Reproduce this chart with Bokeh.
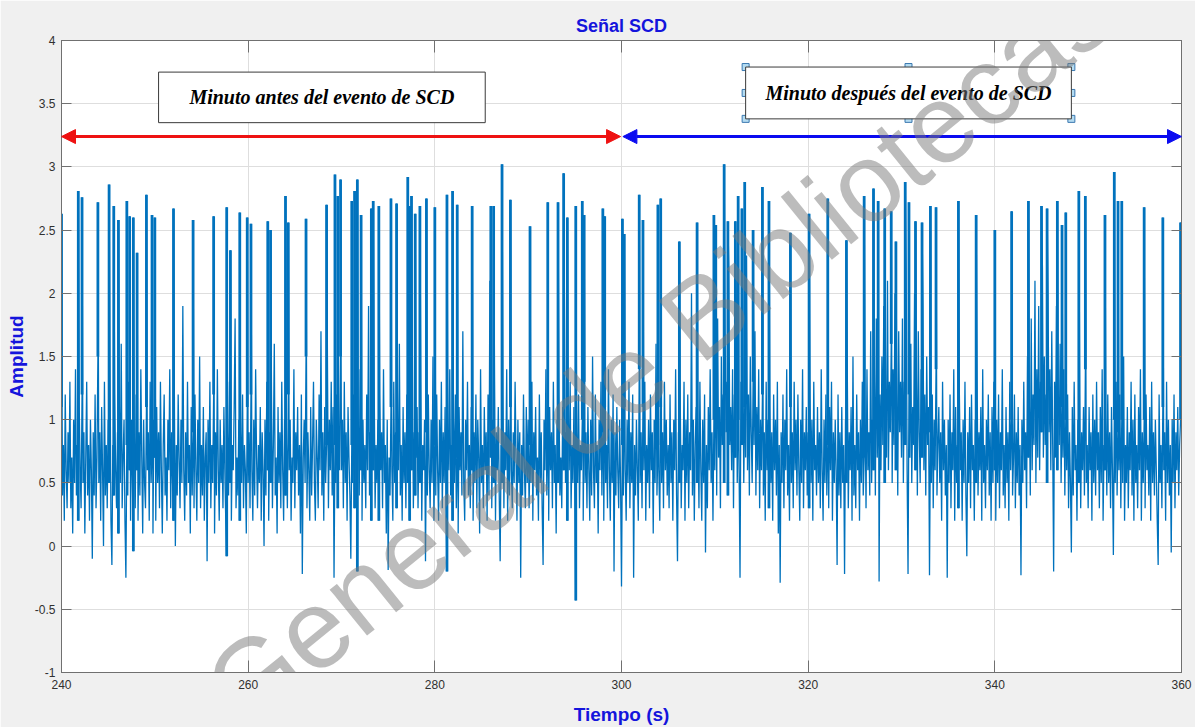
import numpy as np
from bokeh.plotting import figure
from bokeh.models import (Arrow, NormalHead, BoxAnnotation, Label, LinearAxis,
                          FixedTicker, CustomJSTickFormatter)
from bokeh.embed import file_html
from bokeh.resources import INLINE

# ---- signal: background activity, one 10 s block per row (240 s .. 360 s), 0.1 s apart ----
seg_starts = [240, 250, 260, 270, 280, 290, 300, 310, 320, 330, 340, 350]
base_rows = [
    [1.1, 0.4, 0.8, 0.2, 1.2, 0.6, 0.3, 0.9, 0.5, 1.3,
     0.3, 0.7, 0.1, 1.0, 0.5, 1.4, 0.4, 0.8, 0.2, 1.1,
     0.6, 0.3, 1.2, 0.5, 0.9, 0.1, 0.7, 1.3, 0.4, 0.8,
     0.2, 1.0, 0.6, -0.1, 0.9, 0.4, 1.2, 0.3, 0.7, 1.5,
     0.5, 0.9, 0.2, 1.1, 0.6, 0.0, 1.3, 0.4, 0.8, 0.3,
     1.0, 0.5, 1.4, 0.2, -0.15, 0.8, 0.4, 1.2, 0.6, 0.3,
     0.9, 0.1, 1.1, 0.5, 1.6, 0.3, 0.7, 1.0, 0.2, -0.25,
     0.8, 0.4, 1.3, 0.6, 0.2, 1.0, 0.5, -0.04, 0.9, 0.3,
     1.2, 0.6, 0.2, 0.9, 0.4, 1.4, 0.7, 0.1, 1.0, 0.5,
     0.3, 1.1, 0.6, 0.9, 0.2, 1.3, 0.5, 0.8, 0.1, 1.0],
    [0.7, 0.2, 1.1, 0.5, 0.9, 0.3, 1.3, 0.6, 0.1, 0.8,
     1.2, 0.4, 0.7, 0.2, 1.0, 0.6, 1.4, 0.3, 0.9, 0.5,
     0.2, 1.1, 0.0, 0.8, 0.4, 1.2, 0.7, 0.3, 1.0, 0.5,
     1.9, 0.6, 0.2, 0.9, 0.4, 1.3, 0.5, 0.8, 0.1, 1.1,
     0.4, 0.9, 0.3, 1.2, 0.6, 0.2, 1.0, 0.5, 1.5, 0.3,
     0.8, 0.4, 1.1, 0.2, 0.7, 0.9, -0.12, 1.0, 0.5, 1.3,
     0.3, 0.8, 0.5, 1.2, 0.1, 0.9, 0.4, 1.4, 0.6, 0.2,
     1.0, 0.5, 0.8, 0.3, 1.1, 0.6, 0.2, -0.08, 0.9, 0.4,
     1.3, 0.5, 0.2, 0.8, 0.6, 1.1, 1.8, 0.3, 0.7, 0.4,
     1.0, 0.2, 0.9, 0.5, 1.2, 0.3, 0.8, 0.6, 0.1, 1.1],
    [0.5, 0.9, 0.3, 1.2, 0.6, 0.2, 1.0, 0.4, 1.4, 0.7,
     0.3, 0.8, 0.5, 1.1, 0.2, 0.9, 0.6, 0.0, 1.0, 0.4,
     1.3, 0.6, 0.2, 0.9, 0.5, 1.2, 0.3, 0.8, 1.6, 0.4,
     0.7, 0.1, 1.1, 0.5, 0.9, 0.3, 1.3, 0.6, 0.2, 1.0,
     0.4, 0.8, 0.3, 1.2, 0.6, 1.0, 0.2, 0.7, 0.5, 1.4,
     0.3, 0.9, 0.6, 1.1, 0.4, 0.8, 0.1, 1.2, -0.22, 0.7,
     1.0, 0.5, 1.5, 0.3, 0.9, 0.6, 0.2, 1.1, 0.4, 0.8,
     1.3, 0.5, 0.2, 1.0, 0.7, 0.3, 1.2, 0.6, 1.7, 0.4,
     0.9, 0.2, 1.1, 0.5, 0.8, 1.4, 0.3, 1.0, 0.6, 1.3,
     0.4, 1.1, -0.25, 0.8, 0.5, 1.2, 0.3, 0.9, 0.6, 1.5],
    [0.6, 1.0, 0.3, 1.3, 0.5, 0.9, 0.2, 1.1, 0.7, 0.4,
     -0.1, 0.8, 0.5, 1.2, 0.3, 0.9, 0.6, -0.2, 1.0, 0.4,
     1.4, 0.6, 0.2, 1.0, 0.5, 0.8, 0.3, 1.2, 0.6, 1.9,
     0.4, 0.9, 0.2, 1.1, 0.6, 1.3, 0.3, 0.8, 0.5, 1.0,
     0.2, 1.2, 0.6, 0.9, 0.3, 1.4, 0.5, 0.8, 0.1, 1.0,
     -0.19, 0.7, 0.4, 1.1, 0.6, 0.2, 1.3, 0.5, 0.9, 0.3,
     1.0, 0.6, 1.6, 0.4, 0.8, 0.2, 1.1, 0.5, 0.9, 0.3,
     1.2, 0.5, 0.8, 0.2, 1.0, 0.6, 1.4, 0.3, 0.9, 0.4,
     0.7, 1.1, 0.3, 0.9, 0.5, 1.3, 0.2, 0.8, 0.6, 1.0,
     -0.12, 0.9, 0.4, 1.2, 0.6, 0.3, 1.0, 0.5, 1.5, 0.2],
    [0.8, 0.4, 1.2, 0.6, 0.2, 1.0, 0.5, 1.3, 0.3, 0.9,
     0.5, 1.1, 0.3, -0.2, 0.9, 0.6, 1.4, 0.4, 0.8, 0.2,
     1.0, 0.5, 1.2, 0.3, 0.7, 0.1, 1.1, 0.6, 0.9, 0.4,
     1.7, 0.5, 0.2, 1.0, 0.6, 1.3, 0.4, 0.8, 0.3, 1.1,
     0.6, 0.2, 0.9, 0.5, 1.2, 0.3, 1.0, 0.7, 0.1, 1.4,
     0.5, 0.8, 0.3, 1.1, 0.6, 0.9, 0.2, 1.2, 0.4, 2.1,
     0.7, 0.3, 1.0, 0.5, 1.3, 0.2, 0.9, 0.6, 1.1, 0.4,
     -0.12, 0.8, 0.5, 1.2, 0.3, 0.9, 0.6, 1.4, 0.2, 1.0,
     0.4, 1.1, 0.6, 0.3, 0.9, 0.5, 1.3, 0.7, 0.2, 1.0,
     0.5, 0.9, -0.25, 0.8, 0.4, 1.2, 0.6, 0.3, 1.1, 0.5],
    [1.0, 0.3, 0.8, 0.5, 1.3, 0.2, 0.9, 0.6, 1.1, 0.4,
     0.7, 0.2, 1.2, 0.5, 0.9, 0.3, -0.15, 1.0, 0.6, 1.4,
     0.4, 0.8, 0.2, 1.1, 0.6, 0.9, 0.3, 1.3, 0.5, 0.8,
     0.1, 1.0, 0.5, 1.2, 0.4, 0.7, 0.3, 1.1, 0.6, 1.8,
     0.5, 0.9, 0.2, 1.0, 0.6, 1.3, 0.3, 0.8, 0.5, 1.1,
     0.4, -0.43, 0.9, 0.5, 1.2, 0.3, 0.8, 0.6, 1.0, 0.2,
     1.3, 0.5, 0.9, 0.3, 1.1, 0.6, 0.2, 1.0, 0.4, 1.5,
     0.6, 0.3, 1.2, 0.5, 0.8, 0.1, 1.0, 0.6, 1.3, 0.4,
     0.9, 0.2, 1.1, 0.5, 0.8, 0.3, 1.4, 0.6, 0.2, 1.0,
     0.5, 1.2, -0.2, 0.9, 0.4, 1.1, 0.6, 0.3, 1.0, 0.5],
    [-0.32, 0.8, 0.4, 1.1, 0.6, 0.2, 1.0, 0.5, 1.3, 0.3,
     0.9, 0.5, 1.2, -0.25, 0.8, 0.4, 1.0, 0.6, 0.2, 1.4,
     0.5, 0.9, 0.3, 1.1, 0.6, 1.3, 0.2, 0.8, 0.5, 1.0,
     0.3, 1.2, 0.6, 0.9, 0.1, 1.0, 0.5, 1.6, 0.4, 0.8,
     0.6, 0.2, 1.1, 0.5, 0.9, 0.3, 1.3, 0.6, 1.0, 0.4,
     0.8, 0.3, 1.2, 0.5, 0.9, 0.2, 1.0, 0.6, 1.4, 0.4,
     -0.12, 0.9, 0.5, 1.1, 0.3, 0.8, 0.6, 1.3, 0.2, 1.0,
     0.5, 1.2, 0.3, 0.9, 0.6, 2.0, 0.4, 1.0, 0.2, 0.8,
     1.1, 0.5, 0.9, 0.3, 1.3, 0.6, 0.2, 1.0, 0.5, 1.2,
     -0.05, 0.8, 0.3, 1.1, 0.6, 1.4, 0.5, 0.9, 0.2, 1.0],
    [0.6, 1.3, 0.4, 1.8, 0.7, 1.1, 0.3, 1.5, 0.8, 1.2,
     0.5, 1.7, 0.9, 1.3, 0.4, 2.2, 0.8, 1.1, 0.6, 1.4,
     0.3, 1.2, 0.7, 1.9, 0.5, 1.0, 0.6, -0.25, 1.3, 0.8,
     1.6, 0.5, 1.1, 0.7, 2.3, 0.6, 1.2, 0.4, 1.5, 0.9,
     0.5, 1.3, 0.8, 1.7, 0.4, 1.1, 0.6, 1.4, 0.3, 1.0,
     0.6, 1.2, 0.4, 0.9, 0.2, 1.3, 0.6, 1.0, 0.3, 1.1,
     0.5, 0.9, 0.2, 1.2, 0.6, 1.0, 0.4, 1.3, 0.1, 0.8,
     -0.29, 0.9, 0.5, 1.2, 0.3, 1.0, 0.6, 1.4, 0.4, 0.8,
     0.2, 1.1, 0.5, 0.9, 0.3, 1.3, 0.6, 1.0, 0.4, 1.2,
     0.6, 0.2, 1.0, 0.5, 1.4, 0.3, 0.9, 0.6, 1.1, 0.4],
    [0.9, 0.3, 1.2, 0.5, 1.0, 0.2, 1.3, 0.6, 0.8, 0.4,
     1.1, 0.5, 0.9, 0.3, 1.4, 0.6, 0.2, 1.0, 0.5, 1.2,
     0.4, 0.8, 0.3, 1.1, 0.6, 1.3, 0.2, 0.9, 0.5, 1.0,
     0.6, -0.15, 1.2, 0.4, 0.9, 0.3, 1.1, 0.5, 0.8, -0.22,
     1.0, 0.5, 1.3, 0.3, 0.9, 0.6, 1.1, 0.2, 1.5, 0.4,
     0.8, 0.3, 1.2, 0.6, 0.9, 0.2, 1.0, 0.5, 1.3, 0.4,
     0.7, 1.1, 0.3, 1.4, 0.6, 0.9, 0.4, 1.7, 0.5, 1.0,
     0.6, 1.3, 0.4, 1.8, 0.7, 1.1, -0.28, 1.2, 0.6, 1.5,
     0.8, 1.9, 0.5, 1.2, 0.7, 2.1, 0.6, 1.3, 0.9, 1.6,
     0.5, 1.4, 0.8, 2.0, 0.6, 1.2, 0.4, 1.7, 0.9, 1.3],
    [0.7, 1.8, 0.5, 1.3, 0.8, 2.2, 0.6, -0.22, 1.2, 0.7,
     1.6, 0.5, 1.1, 0.8, 2.0, 0.6, 1.3, 0.4, 1.7, 0.9,
     0.5, 1.4, 0.7, 1.9, 0.6, 1.2, 0.4, 1.5, 0.8, 1.1,
     -0.23, 0.9, 0.5, 1.2, 0.3, 1.0, 0.6, 1.4, 0.4, 0.8,
     1.1, 0.5, 0.9, 0.2, 1.3, 0.6, 1.0, 0.4, 0.8, -0.25,
     1.0, 0.5, 1.2, 0.3, 0.9, 0.6, 1.4, 0.2, 1.1, 0.5,
     0.8, 0.3, 1.2, 0.6, 0.9, 0.2, 1.0, 0.5, 1.3, 0.4,
     -0.08, 0.9, 0.5, 1.1, 0.3, 1.2, 0.6, 0.8, 0.2, 1.0,
     0.5, 1.3, 0.4, 0.9, 0.6, 1.1, 0.2, 1.4, 0.5, 0.8,
     0.3, 1.0, 0.6, 1.2, 0.4, 0.9, 0.2, 1.1, 0.5, 1.3],
    [0.6, 0.2, 1.0, 0.5, 1.2, 0.3, 0.9, 0.6, 1.4, 0.4,
     0.8, 0.3, 1.1, 0.5, 0.9, 0.2, 1.3, 0.6, 1.0, 0.4,
     0.7, 1.2, 0.3, 0.9, 0.5, 1.1, 0.4, 0.8, -0.23, 1.0,
     0.5, 1.3, 0.6, 0.9, 0.3, 1.5, 0.7, 1.1, 0.4, 1.8,
     0.6, 1.2, 0.8, 2.1, 0.5, 1.4, 0.7, 1.9, 0.6, 1.3,
     0.9, 2.2, 0.7, 1.5, 0.8, 1.2, 0.5, 2.0, 0.9, 1.4,
     0.6, 1.7, 0.8, -0.2, 1.3, 0.7, 1.9, 0.6, 1.2, 0.8,
     1.6, 0.5, 1.1, 0.7, 1.4, 0.4, 1.0, 0.6, 1.2, 0.3,
     0.9, 0.5, -0.05, 1.1, 0.4, 1.3, 0.6, 0.8, 0.2, 1.0,
     0.5, 1.2, 0.3, 0.9, 0.6, 1.1, 0.4, 1.4, 0.5, 0.8],
    [0.3, 1.1, 0.6, 0.9, 0.2, 1.2, 0.5, 1.0, 0.4, 1.3,
     0.6, 0.9, 0.3, 1.1, 0.5, 1.4, 0.2, 0.8, 0.6, 1.0,
     0.4, 1.2, 0.5, 0.9, 0.3, 1.1, 0.6, -0.07, 1.0, 0.5,
     1.3, 0.4, 0.9, 0.6, 1.2, 0.3, 1.0, 0.5, 1.5, 0.2,
     0.8, 0.5, 1.1, 0.3, 0.9, 0.6, 1.3, 0.4, 1.0, 0.2,
     1.2, 0.5, 0.8, 0.3, 1.1, 0.6, 1.4, 0.2, 0.9, 0.5,
     1.0, 0.3, 1.2, 0.6, 0.8, 0.4, 1.1, 0.2, 1.3, 0.5,
     0.9, 0.4, 1.0, 0.6, 0.2, -0.15, 1.2, 0.5, 0.8, 0.3,
     1.1, 0.6, 0.9, 0.2, 1.3, 0.5, 1.0, 0.4, 0.8, -0.05,
     1.0, 0.5, 1.2, 0.3, 0.9, 0.6, 1.1, 0.4, 0.8, 1.0],
]

# ---- signal: QRS peaks (time in s, amplitude) ----
peak_t = [240.0, 241.8, 242.2, 243.9, 245.1, 245.6, 246.1, 247.0, 247.3, 247.7, 248.1, 249.1, 249.7, 250.0,
          252.0, 254.1, 256.3, 257.7, 258.1, 259.1, 259.9, 260.3, 262.1, 262.4, 264.0, 264.3, 266.2, 268.4,
          269.3, 269.6, 269.9, 271.1, 271.4, 271.7, 272.1, 273.2, 273.4, 274.0, 275.3, 275.9, 277.1, 277.3,
          277.5, 277.9, 278.4, 279.1, 280.0, 281.3, 281.9, 282.4, 284.0, 286.0, 286.3, 287.2, 288.1, 290.2,
          292.1, 293.2, 293.8, 294.2, 295.1, 295.8, 296.0, 298.0, 298.2, 300.1, 300.3, 301.9, 302.3, 303.9,
          304.2, 306.2, 308.1, 309.9, 310.1, 311.0, 311.4, 312.2, 312.5, 312.9, 313.2, 314.1, 315.1, 315.8,
          318.1, 320.1, 322.1, 324.1, 326.0, 327.0, 327.5, 328.2, 328.9, 329.4, 330.4, 330.8, 331.5, 332.2,
          333.1, 333.7, 336.1, 338.0, 340.0, 341.8, 343.6, 345.0, 345.6, 346.7, 347.2, 347.6, 349.0, 349.7,
          351.8, 352.8, 353.2, 353.6, 356.0, 358.0, 359.9]
peak_amp = [2.63, 2.81, 2.76, 2.72, 2.86, 2.69, 2.58, 2.73, 2.61, 2.60, 2.32, 2.78, 2.62, 2.60,
            2.67, 2.58, 2.61, 2.68, 2.34, 2.64, 2.60, 2.55, 2.57, 2.50, 2.77, 2.56, 2.59, 2.70,
            2.94, 2.77, 2.90, 2.73, 2.81, 2.90, 2.62, 2.67, 2.73, 2.69, 2.75, 2.71, 2.92, 2.69,
            2.77, 2.63, 2.69, 2.75, 2.68, 2.78, 2.81, 2.70, 2.69, 2.69, 2.69, 3.02, 2.74, 2.53,
            2.72, 2.72, 2.95, 2.60, 2.69, 2.73, 2.62, 2.67, 2.61, 2.59, 2.47, 2.78, 2.58, 2.70,
            2.75, 2.41, 2.56, 2.62, 2.54, 3.02, 2.57, 2.57, 2.77, 2.67, 2.88, 2.50, 2.84, 2.73,
            2.48, 2.63, 2.75, 2.42, 2.77, 2.83, 2.73, 2.67, 2.65, 2.41, 2.88, 2.72, 2.57, 2.56,
            2.69, 2.68, 2.73, 2.62, 2.50, 2.65, 2.73, 2.69, 2.67, 2.73, 2.54, 2.64, 2.81, 2.77,
            2.62, 2.96, 2.73, 2.73, 2.68, 2.60, 2.56]

x_ticks = [240, 260, 280, 300, 320, 340, 360]
y_ticks = [-1, -0.5, 0, 0.5, 1, 1.5, 2, 2.5, 3, 3.5, 4]

title_txt = "Señal SCD"
x_label = "Tiempo (s)"
y_label = "Amplitud"
before_txt = "Minuto antes del evento de SCD"
after_txt = "Minuto después del evento de SCD"
event_t = 300
arrow_y = 3.24

# ---- assemble the trace: background samples + peaks, ordered in time ----
t_parts, v_parts = [], []
for start, row in zip(seg_starts, base_rows):
    n = len(row)
    t_parts.append(start + 10.0 * np.arange(n) / n)
    v_parts.append(np.array(row, dtype=float))
t_base = np.concatenate(t_parts)
v_base = np.concatenate(v_parts)
t_all = np.concatenate([t_base, np.array(peak_t)])
v_all = np.concatenate([v_base, np.array(peak_amp)])
order = np.argsort(t_all, kind="stable")
t_all, v_all = t_all[order], v_all[order]
# foot of each QRS stroke: the background level under the peak
peak_foot = np.interp(peak_t, t_base, v_base)

TRACE = "#0072bd"
BLUE_TXT = "#1414dc"
AX_COL = "#707070"

p = figure(width=1195, height=727, x_range=(240, 360), y_range=(-1, 4),
           output_backend="svg", toolbar_location=None,
           min_border_left=61, min_border_right=14, min_border_top=40, min_border_bottom=55,
           background_fill_color="white", border_fill_color="#f0f0f0")

p.line(t_all, v_all, line_color=TRACE, line_width=1.3)
# QRS strokes are several samples wide: draw them as heavier strokes
p.segment(x0=peak_t, y0=peak_foot, x1=peak_t, y1=peak_amp, line_color=TRACE, line_width=2.8)

# axes (box style, ticks pointing inward)
tick_fmt = CustomJSTickFormatter(code="return tick.toString();")
for ax, ticks, tin in ((p.xaxis[0], x_ticks, 12), (p.yaxis[0], y_ticks, 10)):
    ax.ticker = FixedTicker(ticks=ticks)
    ax.formatter = tick_fmt
    ax.major_tick_in = tin
    ax.major_tick_out = 0
    ax.minor_tick_line_color = None
    ax.axis_line_color = AX_COL
    ax.major_tick_line_color = AX_COL
    ax.major_label_text_font = "Liberation Sans"
    ax.major_label_text_font_size = "12px"
    ax.major_label_text_color = "#303030"
    ax.axis_label_text_font = "Liberation Sans"
    ax.axis_label_text_font_style = "bold"
    ax.axis_label_text_font_size = "19px"
    ax.axis_label_text_color = BLUE_TXT

p.xaxis.axis_label = x_label
p.yaxis.axis_label = y_label
p.xaxis.major_label_standoff = 7
p.xaxis.axis_label_standoff = 12
p.yaxis.major_label_standoff = 6
p.yaxis.axis_label_standoff = 5

blank = CustomJSTickFormatter(code="return '';")
for loc, ticks, tin in (("above", x_ticks, 12), ("right", y_ticks, 10)):
    ax = LinearAxis(ticker=FixedTicker(ticks=ticks), formatter=blank,
                    major_tick_in=tin, major_tick_out=0,
                    minor_tick_line_color=None, axis_line_color=AX_COL,
                    major_tick_line_color=AX_COL, major_label_text_font_size="0px")
    p.add_layout(ax, loc)

p.xgrid.ticker = FixedTicker(ticks=x_ticks)
p.ygrid.ticker = FixedTicker(ticks=y_ticks)
p.grid.grid_line_color = "#dedede"
p.outline_line_color = AX_COL

p.title.text = title_txt
p.title.align = "center"
p.title.text_font = "Liberation Sans"
p.title.text_font_style = "bold"
p.title.text_font_size = "18px"
p.title.text_color = BLUE_TXT

# ---- annotations: two labelled boxes and the before/after arrows ----
box1 = dict(left=250.4, right=285.4, bottom=3.35, top=3.75)
box2 = dict(left=313.3, right=348.2, bottom=3.38, top=3.79)
for b in (box1, box2):
    p.add_layout(BoxAnnotation(**b, fill_color="white", fill_alpha=1.0,
                               line_color="#3a3a3a", line_width=1, line_alpha=1.0))

for b, txt in ((box1, before_txt), (box2, after_txt)):
    p.add_layout(Label(x=(b["left"] + b["right"]) / 2, y=(b["bottom"] + b["top"]) / 2,
                       text=txt, text_align="center", text_baseline="middle",
                       text_font="Liberation Serif", text_font_style="bold italic",
                       text_font_size="20px", text_color="black"))

# selection handles on the second box
hx = [box2["left"], (box2["left"] + box2["right"]) / 2, box2["right"]]
hy = [box2["bottom"], (box2["bottom"] + box2["top"]) / 2, box2["top"]]
hxs, hys = [], []
for i, xx in enumerate(hx):
    for j, yy in enumerate(hy):
        if i == 1 and j == 1:
            continue
        hxs.append(xx)
        hys.append(yy)
p.scatter(hxs, hys, marker="square", size=7, fill_color="#b4dcf2", line_color="#3a78b0", line_width=1)

for x0, x1, col in ((240, event_t - 0.1, "#ee1111"), (event_t + 0.15, 360, "#0a0af0")):
    p.add_layout(Arrow(x_start=x0, y_start=arrow_y, x_end=x1, y_end=arrow_y,
                       line_color=col, line_width=3,
                       start=NormalHead(size=14, fill_color=col, line_color=col),
                       end=NormalHead(size=14, fill_color=col, line_color=col)))

# repository watermark
p.add_layout(Label(x=304.0, y=1.55, text="General de Bibliotecas", angle=0.68,
                   text_align="center", text_baseline="middle",
                   text_font="Liberation Sans", text_font_size="112px",
                   text_color="#7a7a7a", text_alpha=0.5))

open("out.html", "w").write(file_html(p, INLINE))
